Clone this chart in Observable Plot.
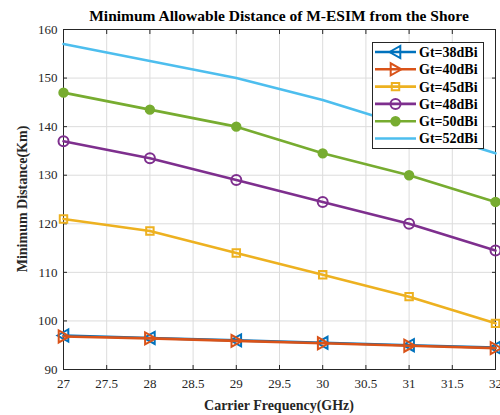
<!DOCTYPE html>
<html>
<head>
<meta charset="utf-8">
<script src="https://cdn.jsdelivr.net/npm/d3@7"></script>
<script src="https://cdn.jsdelivr.net/npm/@observablehq/plot@0.6"></script>
<style>
  body { margin: 0; background: #fff; }
  #chart { width: 500px; height: 415px; position: relative; }
</style>
</head>
<body>
<div id="chart"></div>
<script>
const freq = [27, 28, 29, 30, 31, 32];
const gt38 = [97.0, 96.5, 96.0, 95.5, 95.0, 94.5];
const gt40 = [96.8, 96.4, 95.9, 95.4, 94.9, 94.4];
const gt45 = [121.0, 118.5, 114.0, 109.5, 105.0, 99.5];
const gt48 = [137.0, 133.5, 129.0, 124.5, 120.0, 114.5];
const gt50 = [147.0, 143.5, 140.0, 134.5, 130.0, 124.5];
const gt52 = [157.0, 153.5, 150.0, 145.5, 140.0, 134.5];
const seriesNames = ["Gt=38dBi", "Gt=40dBi", "Gt=45dBi", "Gt=48dBi", "Gt=50dBi", "Gt=52dBi"];
const xTicks = [27, 27.5, 28, 28.5, 29, 29.5, 30, 30.5, 31, 31.5, 32];
const yTicks = [90, 100, 110, 120, 130, 140, 150, 160];
const titleText = "Minimum Allowable Distance of M-ESIM from the Shore";
const xLabel = "Carrier Frequency(GHz)";
const yLabel = "Minimum Distance(Km)";

const colors = ["#0072BD", "#D95319", "#EDB120", "#7E2F8E", "#77AC30", "#4DBEEE"];
const seriesValues = [gt38, gt40, gt45, gt48, gt50, gt52];

const triLeft = { draw(ctx, size) { const r = Math.sqrt(size / Math.PI); ctx.moveTo(-r, 0); ctx.lineTo(r * 0.8, -r); ctx.lineTo(r * 0.8, r); ctx.closePath(); } };
const triRight = { draw(ctx, size) { const r = Math.sqrt(size / Math.PI); ctx.moveTo(r, 0); ctx.lineTo(-r * 0.8, -r); ctx.lineTo(-r * 0.8, r); ctx.closePath(); } };
const symbols = [triLeft, triRight, "square", "circle", "circle", null];
const fills = ["none", "none", "none", "none", colors[4], "none"];
const radii = [6, 6, 4.2, 5, 4.2, 0];

const rows = [];
seriesValues.forEach((vals, i) => freq.forEach((f, j) => rows.push({ f, v: vals[j], s: seriesNames[i], i })));

const font = "'Liberation Serif', 'DejaVu Serif', serif";
const W = 500, H = 415, mL = 63, mR = 5, mT = 29, mB = 46;

const marks = [
  Plot.gridX({ ticks: xTicks, stroke: "#dcdcdc", strokeOpacity: 1, strokeWidth: 1 }),
  Plot.gridY({ ticks: yTicks, stroke: "#dcdcdc", strokeOpacity: 1, strokeWidth: 1 }),
  Plot.frame({ stroke: "#262626", strokeWidth: 1 }),
  Plot.axisX({ ticks: xTicks, anchor: "bottom", tickSize: -4, text: null, label: null, stroke: "#262626" }),
  Plot.axisX({ ticks: xTicks, anchor: "top", tickSize: -4, text: null, label: null, stroke: "#262626" }),
  Plot.axisY({ ticks: yTicks, anchor: "left", tickSize: -4, text: null, label: null, stroke: "#262626" }),
  Plot.axisY({ ticks: yTicks, anchor: "right", tickSize: -4, text: null, label: null, stroke: "#262626" }),
  Plot.axisX({ ticks: xTicks, anchor: "bottom", tickSize: 0, tickPadding: 9, fontSize: 13, fill: "#262626", label: null, tickFormat: d => String(d) }),
  Plot.axisY({ ticks: yTicks, anchor: "left", tickSize: 0, tickPadding: 6, fontSize: 13, fill: "#262626", label: null })
];
seriesNames.forEach((name, i) => {
  const d = rows.filter(r => r.i === i);
  marks.push(Plot.line(d, { x: "f", y: "v", stroke: colors[i], strokeWidth: 2.6 }));
  if (symbols[i]) {
    marks.push(Plot.dot(d, { x: "f", y: "v", symbol: () => symbols[i], r: radii[i], stroke: colors[i], strokeWidth: 2, fill: fills[i] }));
  }
});

const plot = Plot.plot({
  width: W, height: H,
  marginLeft: mL, marginRight: mR, marginTop: mT, marginBottom: mB,
  style: { fontFamily: font, background: "#fff", overflow: "visible" },
  x: { domain: [27, 32] },
  y: { domain: [90, 160] },
  marks
});
document.getElementById("chart").appendChild(plot);

const svg = d3.select(plot);
svg.append("text").attr("x", 279).attr("y", 21).attr("text-anchor", "middle")
  .attr("font-family", font).attr("font-weight", "bold").attr("font-size", 15.5).attr("fill", "#000").text(titleText);
svg.append("text").attr("x", 279).attr("y", 410).attr("text-anchor", "middle")
  .attr("font-family", font).attr("font-weight", "bold").attr("font-size", 14).attr("fill", "#262626").text(xLabel);
svg.append("text").attr("transform", "translate(27,199) rotate(-90)").attr("text-anchor", "middle")
  .attr("font-family", font).attr("font-weight", "bold").attr("font-size", 14).attr("fill", "#262626").text(yLabel);

// legend
const lg = svg.append("g");
lg.append("rect").attr("x", 372.5).attr("y", 42.5).attr("width", 111).attr("height", 106)
  .attr("fill", "#fff").attr("stroke", "#262626").attr("stroke-width", 1);
seriesNames.forEach((name, i) => {
  const yy = 52 + i * 17.3;
  lg.append("line").attr("x1", 375).attr("x2", 416).attr("y1", yy).attr("y2", yy)
    .attr("stroke", colors[i]).attr("stroke-width", 2.6);
  if (symbols[i]) {
    const type = typeof symbols[i] === "string" ? (symbols[i] === "square" ? d3.symbolSquare : d3.symbolCircle) : symbols[i];
    lg.append("path").attr("transform", `translate(395.5,${yy})`)
      .attr("d", d3.symbol(type, radii[i] * radii[i] * Math.PI)())
      .attr("stroke", colors[i]).attr("stroke-width", 2).attr("fill", fills[i]);
  }
  lg.append("text").attr("x", 419).attr("y", yy).attr("dy", "0.35em").attr("text-anchor", "start")
    .attr("font-family", font).attr("font-weight", "bold").attr("font-size", 14).attr("fill", "#000").text(name);
});
</script>
</body>
</html>
